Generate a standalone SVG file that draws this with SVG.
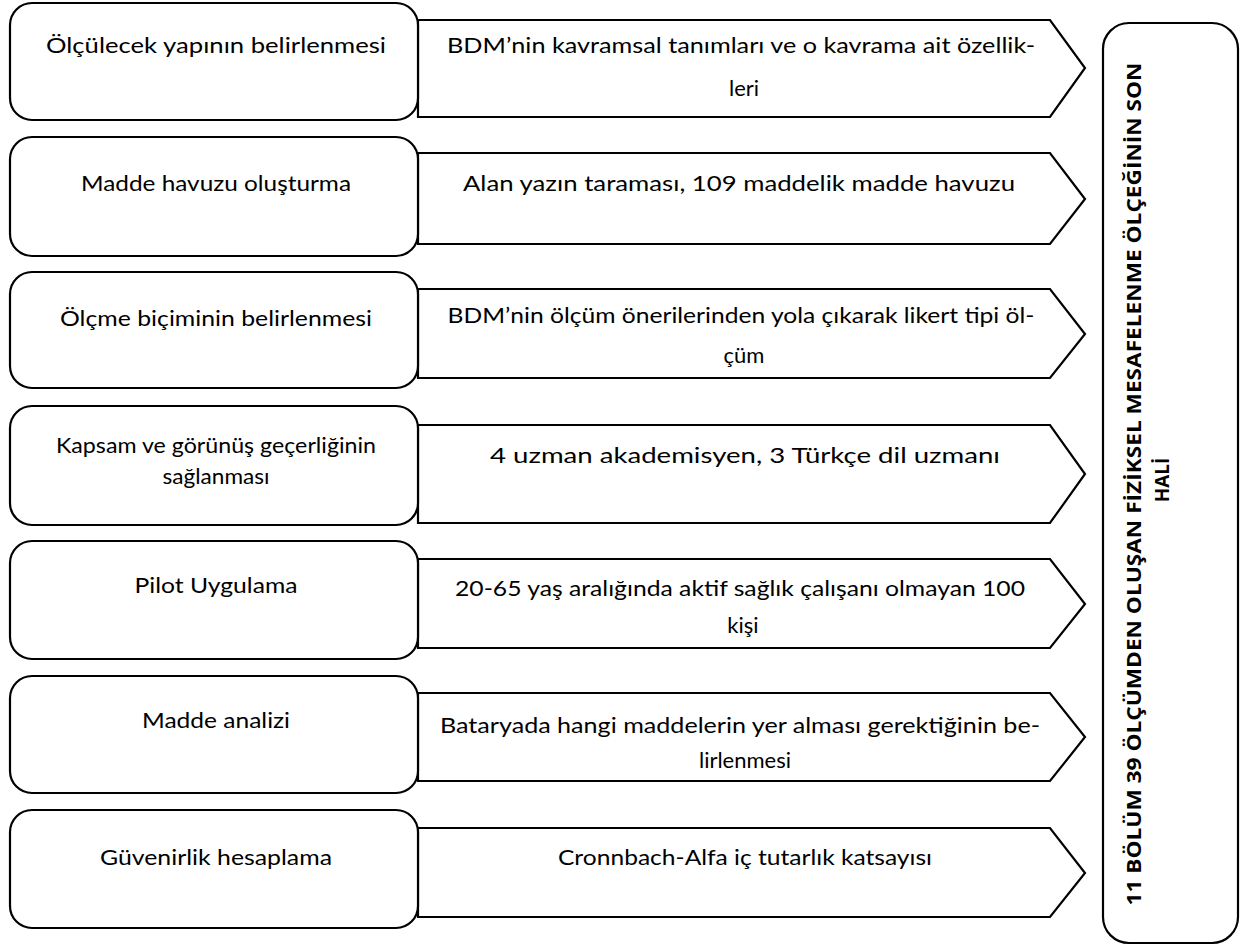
<svg xmlns="http://www.w3.org/2000/svg" width="1241" height="947" viewBox="0 0 1241 947">
<style>
.box{fill:#fff;stroke:#000;stroke-width:2.2}
.arr{fill:#fff;stroke:#000;stroke-width:2.2;stroke-linejoin:miter}
.t{font-family:Lato,"Open Sans","Liberation Sans",sans-serif;font-size:22px;fill:#000;text-anchor:middle}
.vb{font-family:"Open Sans","Liberation Sans",sans-serif;font-size:19px;font-weight:bold;fill:#000;text-anchor:middle}
</style>
<rect width="1241" height="947" fill="#fff"/>
<g id="connectors">
<polygon class="arr" points="418,20 1050,20 1085,68 1050,117 418,117"/>
<polygon class="arr" points="418,153 1050,153 1085,199 1050,244 418,244"/>
<polygon class="arr" points="418,289 1050,289 1085,334 1050,378 418,378"/>
<polygon class="arr" points="418,425 1050,425 1085,474 1050,523 418,523"/>
<polygon class="arr" points="418,559 1050,559 1085,604 1050,648 418,648"/>
<polygon class="arr" points="418,693 1050,693 1085,737 1050,781 418,781"/>
<polygon class="arr" points="418,828 1050,828 1085,873 1050,917 418,917"/>
</g>
<g id="step1"><rect class="box" x="10" y="3" width="408" height="117" rx="22"/><text class="t" x="216" y="53" textLength="340" lengthAdjust="spacingAndGlyphs">Ölçülecek yapının belirlenmesi</text></g>
<g id="step2"><rect class="box" x="10" y="137" width="408" height="119" rx="22"/><text class="t" x="216" y="191" textLength="270" lengthAdjust="spacingAndGlyphs">Madde havuzu oluşturma</text></g>
<g id="step3"><rect class="box" x="10" y="272" width="408" height="116" rx="22"/><text class="t" x="216" y="326" textLength="312" lengthAdjust="spacingAndGlyphs">Ölçme biçiminin belirlenmesi</text></g>
<g id="step4"><rect class="box" x="10" y="406" width="408" height="119" rx="22"/><text class="t" x="216" y="453" textLength="320" lengthAdjust="spacingAndGlyphs">Kapsam ve görünüş geçerliğinin</text><text class="t" x="216" y="484" textLength="107" lengthAdjust="spacingAndGlyphs">sağlanması</text></g>
<g id="step5"><rect class="box" x="10" y="541" width="408" height="118" rx="22"/><text class="t" x="216" y="593" textLength="163" lengthAdjust="spacingAndGlyphs">Pilot Uygulama</text></g>
<g id="step6"><rect class="box" x="10" y="676" width="408" height="117" rx="22"/><text class="t" x="216" y="728" textLength="148" lengthAdjust="spacingAndGlyphs">Madde analizi</text></g>
<g id="step7"><rect class="box" x="10" y="810" width="408" height="118" rx="22"/><text class="t" x="216" y="865" textLength="232" lengthAdjust="spacingAndGlyphs">Güvenirlik hesaplama</text></g>
<g id="detail1"><text class="t" x="741" y="53" textLength="588" lengthAdjust="spacingAndGlyphs">BDM’nin kavramsal tanımları ve o kavrama ait özellik-</text><text class="t" x="744" y="96">leri</text></g>
<g id="detail2"><text class="t" x="739" y="191" textLength="552" lengthAdjust="spacingAndGlyphs">Alan yazın taraması, 109 maddelik madde havuzu</text></g>
<g id="detail3"><text class="t" x="741" y="323" textLength="587" lengthAdjust="spacingAndGlyphs">BDM’nin ölçüm önerilerinden yola çıkarak likert tipi öl-</text><text class="t" x="744" y="363">çüm</text></g>
<g id="detail4"><text class="t" x="745" y="463" textLength="510" lengthAdjust="spacingAndGlyphs">4 uzman akademisyen, 3 Türkçe dil uzmanı</text></g>
<g id="detail5"><text class="t" x="740" y="596" textLength="570" lengthAdjust="spacingAndGlyphs">20-65 yaş aralığında aktif sağlık çalışanı olmayan 100</text><text class="t" x="743" y="633">kişi</text></g>
<g id="detail6"><text class="t" x="740" y="733" textLength="600" lengthAdjust="spacingAndGlyphs">Bataryada hangi maddelerin yer alması gerektiğinin be-</text><text class="t" x="745" y="768">lirlenmesi</text></g>
<g id="detail7"><text class="t" x="745" y="865" textLength="374" lengthAdjust="spacingAndGlyphs">Cronnbach-Alfa iç tutarlık katsayısı</text></g>
<g id="result"><rect class="box" x="1103" y="23" width="135" height="920" rx="26"/>
<text class="vb" transform="translate(1141,484) rotate(-90)" x="0" y="0" textLength="843" lengthAdjust="spacingAndGlyphs">11 BÖLÜM 39 ÖLÇÜMDEN OLUŞAN FİZİKSEL MESAFELENME ÖLÇEĞİNİN SON</text>
<text class="vb" transform="translate(1169,480) rotate(-90)" x="0" y="0">HALİ</text></g>
</svg>
